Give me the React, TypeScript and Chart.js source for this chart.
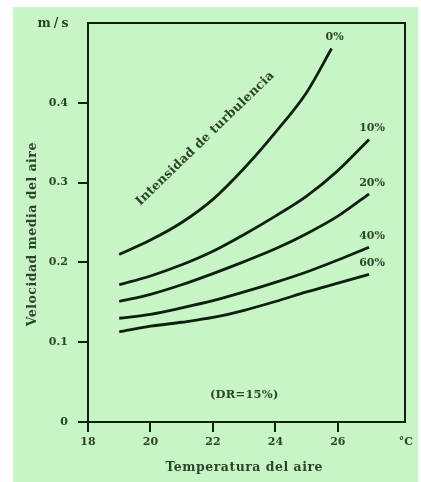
import React, { useEffect, useRef } from "react";
import { Chart, registerables } from "chart.js";

Chart.register(...registerables);

// Series (temperature °C → mean air velocity m/s)
const seriesNames = ["0%", "10%", "20%", "40%", "60%"];
const temps0 = [19, 20, 21, 22, 23, 24, 25, 25.8];
const vel0 = [0.21, 0.228, 0.25, 0.279, 0.318, 0.363, 0.413, 0.468];
const temps = [19, 20, 21, 22, 23, 24, 25, 26, 27];
const vel10 = [0.172, 0.183, 0.197, 0.214, 0.235, 0.258, 0.283, 0.315, 0.354];
const vel20 = [0.151, 0.16, 0.172, 0.186, 0.201, 0.217, 0.236, 0.258, 0.286];
const vel40 = [0.13, 0.135, 0.143, 0.152, 0.163, 0.175, 0.188, 0.203, 0.219];
const vel60 = [0.113, 0.12, 0.125, 0.131, 0.14, 0.151, 0.163, 0.174, 0.185];

const xTicks = [18, 20, 22, 24, 26];
const yTicks = [0, 0.1, 0.2, 0.3, 0.4];

const xTitle = "Temperatura del aire";
const yTitle = "Velocidad media del aire";
const yUnit = "m/s";
const xUnit = "°C";
const curveNote = "Intensidad de turbulencia";
const drNote = "(DR=15%)";

const INK = "#0f1f0f";
const TEXT = "#2c462c";
const GREEN = "#c8f5c6";
const FONT = "'DejaVu Serif', 'Liberation Serif', serif";

export default function App() {
  const ref = useRef<HTMLCanvasElement | null>(null);

  useEffect(() => {
    document.body.style.margin = "0";
    const canvas = ref.current;
    if (!canvas) return;

    const toPts = (xs: number[], ys: number[]) => xs.map((x, i) => ({ x, y: ys[i] }));
    const allSeries = [
      toPts(temps0, vel0),
      toPts(temps, vel10),
      toPts(temps, vel20),
      toPts(temps, vel40),
      toPts(temps, vel60),
    ];

    const bgPlugin = {
      id: "bg",
      beforeDraw(chart: any) {
        const { ctx, width, height } = chart;
        ctx.save();
        ctx.fillStyle = "#ffffff";
        ctx.fillRect(0, 0, width, height);
        ctx.fillStyle = GREEN;
        ctx.fillRect(13, 7, 405, height - 7);
        ctx.restore();
      },
    };

    const spaced = (ctx: any, text: string, x: number, y: number, spacing: number) => {
      ctx.letterSpacing = `${spacing}px`;
      ctx.fillText(text, x + spacing / 2, y);
      ctx.letterSpacing = "0px";
    };

    const annoPlugin = {
      id: "anno",
      afterDraw(chart: any) {
        const { ctx, chartArea } = chart;
        const xs = chart.scales.x;
        const ys = chart.scales.y;
        ctx.save();
        // top and right frame
        ctx.strokeStyle = INK;
        ctx.lineWidth = 2;
        ctx.beginPath();
        ctx.moveTo(chartArea.left, chartArea.top);
        ctx.lineTo(chartArea.right, chartArea.top);
        ctx.lineTo(chartArea.right, chartArea.bottom);
        ctx.stroke();

        ctx.fillStyle = TEXT;
        ctx.textAlign = "center";
        ctx.textBaseline = "middle";
        // curve labels
        ctx.font = `bold 11px ${FONT}`;
        chart.data.datasets.forEach((ds: any, i: number) => {
          const meta = chart.getDatasetMeta(i);
          const last = meta.data[meta.data.length - 1];
          ctx.fillText(seriesNames[i], last.x + 3, last.y - 11);
        });
        // units
        ctx.font = `bold 12.5px ${FONT}`;
        spaced(ctx, yUnit, 53, ys.getPixelForValue(0.5) + 1, 3);
        ctx.font = `bold 11px ${FONT}`;
        ctx.fillText(xUnit, 406, xs.bottom - 40);
        // DR note
        ctx.font = `bold 11.5px ${FONT}`;
        spaced(ctx, drNote, xs.getPixelForValue(23.0), ys.getPixelForValue(0.034), 0.2);
        // x title
        ctx.font = `bold 12.5px ${FONT}`;
        spaced(ctx, xTitle, 244, xs.bottom - 14, 0.5);
        // y title
        ctx.save();
        ctx.translate(33, ys.getPixelForValue(0.235));
        ctx.rotate(-Math.PI / 2);
        ctx.font = `bold 12.5px ${FONT}`;
        spaced(ctx, yTitle, 0, 0, 0.5);
        ctx.restore();
        // diagonal note
        ctx.save();
        ctx.translate(xs.getPixelForValue(21.75), ys.getPixelForValue(0.355));
        ctx.rotate(-44 * Math.PI / 180);
        ctx.font = `bold 12.5px ${FONT}`;
        spaced(ctx, curveNote, 0, 0, 0.2);
        ctx.restore();
        ctx.restore();
      },
    };

    const chart = new Chart(canvas, {
      type: "line",
      data: {
        datasets: allSeries.map((pts, i) => ({
          label: seriesNames[i],
          data: pts,
          borderColor: INK,
          borderWidth: 2.8,
          pointRadius: 0,
          fill: false,
          cubicInterpolationMode: "monotone" as const,
          tension: 0.4,
        })),
      },
      options: {
        responsive: false,
        animation: false,
        layout: { padding: { left: 0, right: 16, top: 23, bottom: 0 } },
        plugins: { legend: { display: false }, tooltip: { enabled: false } },
        scales: {
          x: {
            type: "linear",
            min: 18,
            max: 28.15,
            afterBuildTicks: (s: any) => {
              s.ticks = xTicks.map((v) => ({ value: v }));
            },
            afterFit: (s: any) => {
              s.height = 60;
            },
            ticks: {
              color: TEXT,
              font: { family: FONT, size: 11, weight: "bold" },
              padding: 4,
              maxRotation: 0,
              autoSkip: false,
            },
            grid: { drawOnChartArea: false, drawTicks: true, tickLength: 10, color: INK, lineWidth: 2 },
            border: { display: true, color: INK, width: 2 },
          },
          y: {
            type: "linear",
            min: 0,
            max: 0.5,
            afterBuildTicks: (s: any) => {
              s.ticks = yTicks.map((v) => ({ value: v }));
            },
            afterFit: (s: any) => {
              s.width = 88;
            },
            ticks: {
              color: TEXT,
              font: { family: FONT, size: 11, weight: "bold" },
              padding: 10,
              callback: (v: any) => (v === 0 ? "0" : Number(v).toFixed(1)),
            },
            grid: { drawOnChartArea: false, drawTicks: true, tickLength: 10, color: INK, lineWidth: 2 },
            border: { display: true, color: INK, width: 2 },
          },
        },
      },
      plugins: [bgPlugin, annoPlugin],
    });

    return () => chart.destroy();
  }, []);

  return <canvas ref={ref} width={421} height={482} style={{ display: "block" }} />;
}
